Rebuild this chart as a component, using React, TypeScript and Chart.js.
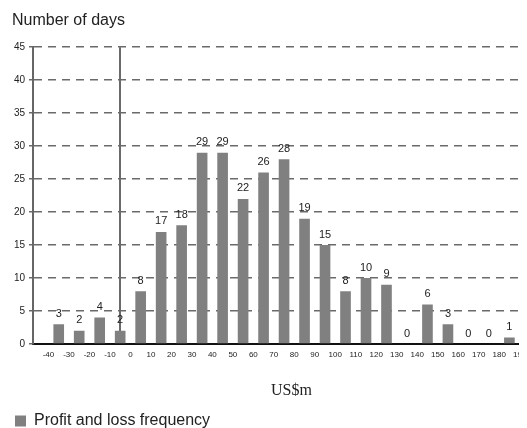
import React, { useEffect, useRef } from "react";
import { Chart, registerables } from "chart.js";

Chart.register(...registerables);

const yAxisTitle = "Number of days";
const xAxisTitle = "US$m";
const seriesLabel = "Profit and loss frequency";
const binCenters = [-35, -25, -15, -5, 5, 15, 25, 35, 45, 55, 65, 75, 85, 95, 105, 115, 125, 135, 145, 155, 165, 175, 185];
const frequency = [3, 2, 4, 2, 8, 17, 18, 29, 29, 22, 26, 28, 19, 15, 8, 10, 9, 0, 6, 3, 0, 0, 1];
const xTickValues = [-40, -30, -20, -10, 0, 10, 20, 30, 40, 50, 60, 70, 80, 90, 100, 110, 120, 130, 140, 150, 160, 170, 180, 190];
const yTickValues = [0, 5, 10, 15, 20, 25, 30, 35, 40, 45];

const SANS = '"Liberation Sans", Arial, Helvetica, sans-serif';
const SERIF = '"Liberation Serif", "Times New Roman", serif';

const barValueLabels = {
  id: "barValueLabels",
  afterDatasetsDraw(chart: any) {
    const ctx = chart.ctx;
    const meta = chart.getDatasetMeta(0);
    ctx.save();
    ctx.font = `11px ${SANS}`;
    ctx.fillStyle = "#222";
    ctx.textAlign = "center";
    ctx.textBaseline = "bottom";
    meta.data.forEach((el: any, i: number) => {
      const p = el.getProps(["x", "y"], true);
      ctx.fillText(String(frequency[i]), p.x, p.y - 5);
    });
    ctx.restore();
  },
};

const xTitlePlugin = {
  id: "xTitlePlugin",
  afterDraw(chart: any) {
    const ctx = chart.ctx;
    const area = chart.chartArea;
    ctx.save();
    ctx.font = `16px ${SERIF}`;
    ctx.fillStyle = "#222";
    ctx.textAlign = "center";
    ctx.textBaseline = "middle";
    ctx.fillText(xAxisTitle, (area.left + area.right) / 2 + 10, area.bottom + 47);
    ctx.restore();
  },
};

export default function App() {
  const ref = useRef<HTMLCanvasElement | null>(null);
  useEffect(() => {
    if (!ref.current) return;
    Chart.defaults.font.family = SANS;
    const chart = new Chart(ref.current, {
      type: "bar",
      data: {
        datasets: [
          {
            label: seriesLabel,
            data: binCenters.map((x, i) => ({ x, y: frequency[i] })),
            backgroundColor: "#808080",
            borderWidth: 0,
            barPercentage: 0.52,
            categoryPercentage: 1,
          },
        ],
      },
      options: {
        animation: false,
        responsive: false,
        layout: { autoPadding: false, padding: { left: 4, right: 8, top: 0, bottom: 2 } },
        plugins: {
          title: {
            display: true,
            text: yAxisTitle,
            align: "start",
            color: "#222",
            font: { size: 16, weight: "normal", family: SANS },
            padding: { top: 3, bottom: 17 },
          },
          legend: {
            display: true,
            position: "bottom",
            align: "start",
            labels: {
              boxWidth: 11,
              boxHeight: 11,
              padding: 3,
              color: "#222",
              font: { size: 16, family: SANS },
            },
          },
          tooltip: { enabled: false },
        },
        scales: {
          x: {
            type: "linear",
            min: -42.5,
            max: 190,
            afterBuildTicks: (scale: any) => {
              scale.ticks = xTickValues.map((v) => ({ value: v }));
            },
            afterFit: (scale: any) => {
              scale.height = 66;
            },
            ticks: {
              autoSkip: false,
              maxRotation: 0,
              padding: 6,
              color: "#222",
              font: { size: 8, family: SANS },
            },
            grid: {
              drawTicks: false,
              color: (c: any) => (c.tick && c.tick.value === 0 ? "#6a6a6a" : "rgba(0,0,0,0)"),
              lineWidth: 2,
            },
            border: { display: true, color: "#111", width: 2 },
          },
          y: {
            min: 0,
            max: 45,
            afterBuildTicks: (scale: any) => {
              scale.ticks = yTickValues.map((v) => ({ value: v }));
            },
            afterFit: (scale: any) => {
              scale.width = 21;
            },
            ticks: {
              padding: 4,
              color: "#222",
              font: { size: 10, family: SANS },
            },
            grid: {
              color: "#6a6a6a",
              lineWidth: 1.5,
              tickLength: 4,
              tickColor: "#6a6a6a",
              drawTicks: true,
            },
            border: { display: true, color: "#666", width: 2, dash: [8, 6] },
          },
        },
      },
      plugins: [barValueLabels, xTitlePlugin],
    });
    return () => chart.destroy();
  }, []);

  return (
    <div style={{ width: 519, height: 420, overflow: "hidden" }}>
      <canvas ref={ref} width={530} height={433} style={{ display: "block" }} />
    </div>
  );
}
